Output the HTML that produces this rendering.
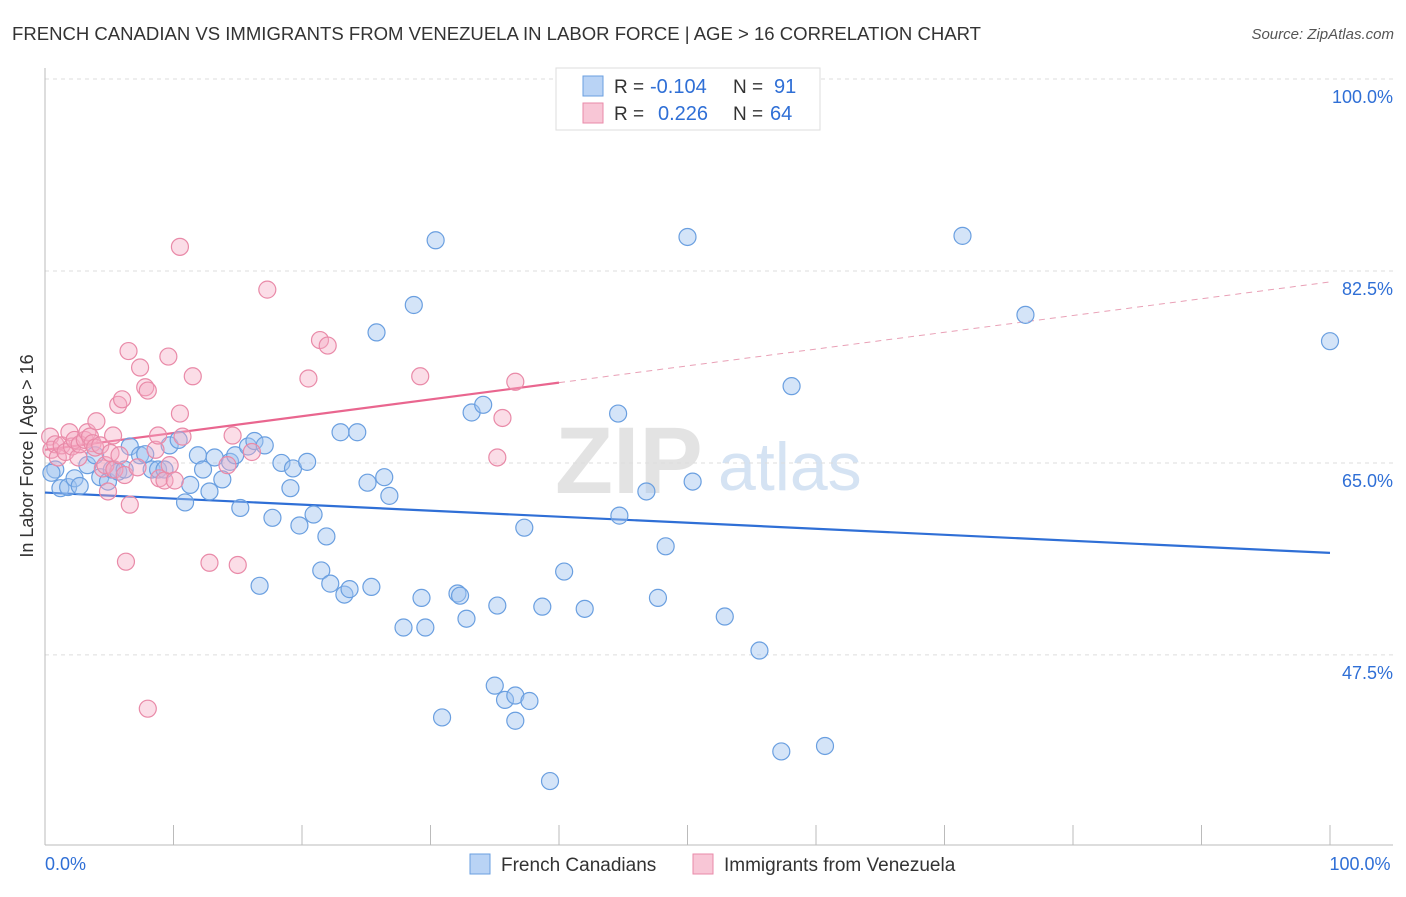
<!DOCTYPE html>
<html><head><meta charset="utf-8"><style>
body{margin:0;background:#fff;font-family:"Liberation Sans",sans-serif;}
svg text{font-family:"Liberation Sans",sans-serif;}
</style></head><body>
<svg id="chart" width="1406" height="892">
<text x="12" y="40" font-size="18" fill="#333" textLength="969" lengthAdjust="spacingAndGlyphs">FRENCH CANADIAN VS IMMIGRANTS FROM VENEZUELA IN LABOR FORCE | AGE &gt; 16 CORRELATION CHART</text>
<text x="1394" y="39" font-size="15" fill="#555" font-style="italic" text-anchor="end">Source: ZipAtlas.com</text>
<text x="33" y="456" font-size="18" fill="#333" transform="rotate(-90 33 456)" text-anchor="middle">In Labor Force | Age &gt; 16</text>
<text x="555" y="493" font-size="95" fill="#e3e3e3" font-weight="bold" font-family="Liberation Serif">ZIP</text>
<text x="718" y="490" font-size="68" fill="#d5e3f3">atlas</text>
<g id="grid"></g><g id="axes"></g><g id="trends"></g><g id="pts"></g>
<g>
<rect x="556" y="68" width="264" height="62" fill="#fff" stroke="#ddd"/>
<rect x="583" y="76" width="20" height="20" fill="#b9d3f5" stroke="#6a9fe0"/>
<rect x="583" y="103" width="20" height="20" fill="#f8c6d6" stroke="#e98aa8"/>
<text x="614" y="93" font-size="19" fill="#333">R =</text>
<text x="650" y="93" font-size="20" fill="#2f6fd6">-0.104</text>
<text x="733" y="93" font-size="19" fill="#333">N =</text>
<text x="774" y="93" font-size="20" fill="#2f6fd6">91</text>
<text x="614" y="120" font-size="19" fill="#333">R =</text>
<text x="658" y="120" font-size="20" fill="#2f6fd6">0.226</text>
<text x="733" y="120" font-size="19" fill="#333">N =</text>
<text x="770" y="120" font-size="20" fill="#2f6fd6">64</text>
</g>
<g>
<rect x="470" y="854" width="20" height="20" fill="#b9d3f5" stroke="#6a9fe0"/>
<text x="501" y="871" font-size="19" fill="#333">French Canadians</text>
<rect x="693" y="854" width="20" height="20" fill="#f8c6d6" stroke="#e98aa8"/>
<text x="724" y="871" font-size="19" fill="#333">Immigrants from Venezuela</text>
</g>
</svg>
<script>
const yTicks=[100,82.5,65,47.5];
const yTickLabels=["100.0%","82.5%","65.0%","47.5%"];
const xTickLabels=["0.0%","100.0%"];
const blueX=[0.8,0.5,1.2,1.8,2.3,2.7,3.3,3.9,4.3,4.9,5.2,5.7,6.2,6.6,7.4,7.8,8.3,8.8,9.3,9.7,10.4,10.9,11.3,11.9,12.3,12.8,13.2,13.8,14.4,14.8,15.2,15.8,16.3,16.7,17.1,17.7,18.4,19.1,19.3,19.8,20.4,20.9,21.5,21.9,22.2,23.0,23.3,23.7,24.3,25.1,25.4,25.8,26.4,26.8,27.9,28.7,29.3,29.6,30.4,30.9,32.1,32.3,32.8,33.2,34.1,35.0,35.2,35.8,36.6,36.6,37.3,37.7,38.7,39.3,40.4,42.0,44.6,44.7,46.8,47.7,48.3,50.0,50.4,52.9,55.6,57.3,58.1,60.7,71.4,76.3,100];
const blueY=[64.4,64.1,62.7,62.8,63.6,62.9,64.8,65.7,63.7,63.3,64.4,64.2,64.4,66.5,65.7,65.8,64.4,64.4,64.4,66.6,67.1,61.4,63.0,65.7,64.4,62.4,65.5,63.5,65.1,65.7,60.9,66.5,67.0,53.8,66.6,60.0,65.0,62.7,64.5,59.3,65.1,60.3,55.2,58.3,54.0,67.8,53.0,53.5,67.8,63.2,53.7,76.9,63.7,62.0,50.0,79.4,52.7,50.0,85.3,41.8,53.1,52.9,50.8,69.6,70.3,44.7,52.0,43.4,43.8,41.5,59.1,43.3,51.9,36.0,55.1,51.7,69.5,60.2,62.4,52.7,57.4,85.6,63.3,51.0,47.9,38.7,72.0,39.2,85.7,78.5,76.1];
const pinkX=[0.4,0.5,0.8,1.0,1.3,1.6,1.9,2.1,2.3,2.6,2.7,3.1,3.3,3.5,3.7,3.9,4.0,4.3,4.5,4.7,4.9,5.1,5.3,5.4,5.7,5.8,6.0,6.2,6.5,6.6,6.3,7.2,7.4,7.8,8.0,8.0,8.6,8.8,8.9,9.3,9.6,9.7,10.1,10.5,10.5,10.7,11.5,12.8,14.2,14.6,15.0,16.1,17.3,20.5,21.4,22.0,29.2,35.2,35.6,36.6];
const pinkY=[67.4,66.2,66.7,65.5,66.6,66.0,67.8,66.5,67.1,65.5,66.7,67.1,67.8,67.4,66.8,66.4,68.8,66.6,64.5,64.8,62.4,65.9,67.5,64.4,70.3,65.7,70.8,63.9,75.2,61.2,56.0,64.6,73.7,71.9,71.6,42.6,66.2,67.5,63.6,63.4,74.7,64.8,63.4,69.5,84.7,67.4,72.9,55.9,64.8,67.5,55.7,66.0,80.8,72.7,76.2,75.7,72.9,65.5,69.1,72.4];
const blueTrend=[62.3,56.8];
const pinkTrend=[66.2,81.5];
const pinkSolidEnd=40;
const NS="http://www.w3.org/2000/svg";
const X0=45,X1=1330,Y100=79,PXP=10.97;
const sx=v=>X0+(X1-X0)*v/100;
const sy=v=>Y100+(100-v)*PXP;
function mk(t,a,p){const e=document.createElementNS(NS,t);for(const k in a)e.setAttribute(k,a[k]);document.getElementById(p).appendChild(e);return e;}
yTicks.forEach((t,i)=>{
 const g=mk('line',{x1:45,x2:1393,y1:sy(t),y2:sy(t),stroke:'#ddd','stroke-dasharray':'4,4'},'grid');
 
 
 const tx=mk('text',{x:1393,y:sy(t)+24,'font-size':18,fill:'#2f6fd6','text-anchor':'end'},'grid');
 tx.textContent=yTickLabels[i];
 
 
});
const ax=mk('line',{x1:45,x2:45,y1:68,y2:845,stroke:'#bbb'},'axes');


const bx=mk('line',{x1:45,x2:1393,y1:845,y2:845,stroke:'#bbb'},'axes');


for(let i=0;i<=10;i++){const t=mk('line',{x1:sx(i*10),x2:sx(i*10),y1:825,y2:845,stroke:'#bbb'},'axes');
 
 }
[[0,'start',45],[100,'middle',1360]].forEach((d,i)=>{const t=mk('text',{x:d[2],y:870,'font-size':18,fill:'#2f6fd6','text-anchor':d[1]},'axes');t.textContent=xTickLabels[i];
 
 });
const bt=mk('line',{x1:sx(0),y1:sy(blueTrend[0]),x2:sx(100),y2:sy(blueTrend[1]),stroke:'#2f6fd6','stroke-width':2.2},'trends');


const pv=x=>pinkTrend[0]+(pinkTrend[1]-pinkTrend[0])*x/100;
const pt=mk('line',{x1:sx(0),y1:sy(pv(0)),x2:sx(pinkSolidEnd),y2:sy(pv(pinkSolidEnd)),stroke:'#e9668f','stroke-width':2.2},'trends');


const pd=mk('line',{x1:sx(pinkSolidEnd),y1:sy(pv(pinkSolidEnd)),x2:sx(100),y2:sy(pv(100)),stroke:'#e9a0b6','stroke-width':1,'stroke-dasharray':'6,5'},'trends');


blueX.forEach((x,i)=>{const c=mk('circle',{cx:sx(x),cy:sy(blueY[i]),r:8.5,fill:'rgba(160,195,240,0.45)',stroke:'#6a9fe0','stroke-width':1.2},'pts');
 
 });
pinkX.forEach((x,i)=>{const c=mk('circle',{cx:sx(x),cy:sy(pinkY[i]),r:8.5,fill:'rgba(245,170,195,0.4)',stroke:'#e98aa8','stroke-width':1.2},'pts');
 
 });
</script>
</body></html>
